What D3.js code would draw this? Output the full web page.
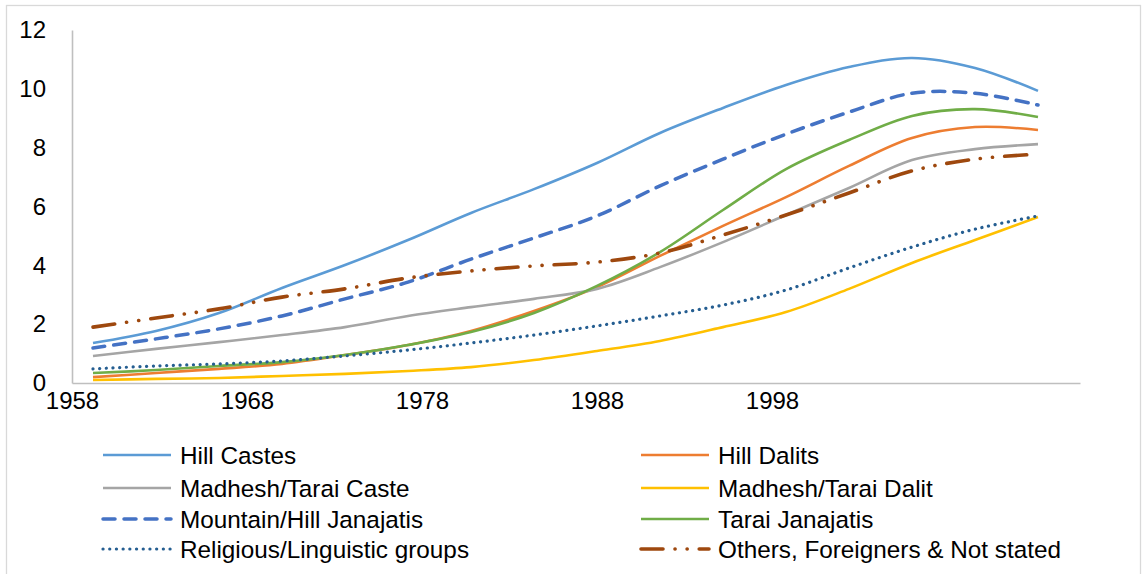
<!DOCTYPE html>
<html>
<head>
<meta charset="utf-8">
<script src="https://cdn.jsdelivr.net/npm/d3@7"></script>
<style>
  body { margin: 0; background: #fff; }
  svg text { font-family: "Liberation Sans", Arial, sans-serif; fill: #000; }
</style>
</head>
<body>
<div id="chart"></div>
<script>
// values
const years = [1959.2, 1962.8, 1966.4, 1970, 1973.6, 1977.2, 1980.8, 1984.4, 1988, 1991.6, 1995.2, 1998.8, 2002.4, 2006, 2009.6, 2013.2];

const hillCastes = [1.36, 1.77, 2.38, 3.23, 4.01, 4.86, 5.78, 6.59, 7.48, 8.5, 9.35, 10.13, 10.74, 11.05, 10.71, 9.93];
const hillDalits = [0.2, 0.34, 0.48, 0.65, 0.95, 1.29, 1.77, 2.45, 3.26, 4.32, 5.34, 6.32, 7.38, 8.33, 8.7, 8.6];
const madheshCaste = [0.92, 1.16, 1.39, 1.63, 1.9, 2.28, 2.58, 2.86, 3.2, 3.94, 4.79, 5.71, 6.63, 7.58, 7.95, 8.12];
const madheshDalit = [0.1, 0.14, 0.17, 0.24, 0.31, 0.41, 0.54, 0.78, 1.09, 1.43, 1.9, 2.41, 3.2, 4.08, 4.86, 5.64];
const mountainJanajatis = [1.19, 1.5, 1.84, 2.28, 2.86, 3.43, 4.21, 4.93, 5.68, 6.7, 7.61, 8.46, 9.21, 9.85, 9.85, 9.45];
const taraiJanajatis = [0.34, 0.44, 0.58, 0.71, 0.95, 1.29, 1.73, 2.38, 3.3, 4.45, 5.88, 7.27, 8.26, 9.08, 9.31, 9.04];
const religiousGroups = [0.48, 0.58, 0.65, 0.75, 0.92, 1.12, 1.36, 1.63, 1.94, 2.28, 2.65, 3.16, 3.91, 4.62, 5.23, 5.68];
const othersNotStated = [1.9, 2.21, 2.52, 2.92, 3.2, 3.57, 3.81, 3.98, 4.11, 4.42, 5.03, 5.71, 6.46, 7.21, 7.61, 7.78];

const xTicks = [1958, 1968, 1978, 1988, 1998];
const yTicks = [0, 2, 4, 6, 8, 10, 12];

// name, values, colour, width, dash
let seriesList = [
  ["Hill Castes", hillCastes, "#5B9BD5", 2.6, null],
  ["Hill Dalits", hillDalits, "#ED7D31", 2.6, null],
  ["Madhesh/Tarai Caste", madheshCaste, "#A5A5A5", 2.6, null],
  ["Madhesh/Tarai Dalit", madheshDalit, "#FFC000", 2.6, null],
  ["Mountain/Hill Janajatis", mountainJanajatis, "#4472C4", 3.5, "12,9"],
  ["Tarai Janajatis", taraiJanajatis, "#70AD47", 2.6, null],
  ["Religious/Linguistic groups", religiousGroups, "#255E91", 3.2, "0.1,6.6"],
  ["Others, Foreigners & Not stated", othersNotStated, "#9E480E", 3.6, "22,12,0.1,12,0.1,12"],
];

const width = 1142;
const height = 574;

let svg = d3
  .select("#chart")
  .append("svg")
  .attr("width", width)
  .attr("height", height);

// chart border
svg
  .append("rect")
  .attr("x", 6.5)
  .attr("y", 5.5)
  .attr("width", 1134)
  .attr("height", 580)
  .attr("fill", "none")
  .attr("stroke", "#D9D9D9")
  .attr("stroke-width", 1.3);

let x = d3.scaleLinear().domain([1958, 2015.6]).range([72, 1080]);
let y = d3.scaleLinear().domain([0, 12]).range([383, 30]);

const xAxis = svg.append("g").attr("transform", "translate(0,383)");
xAxis
  .call(d3.axisBottom(x).tickValues(xTicks).tickFormat(d3.format("d")).tickSize(0).tickPadding(9))
  .call((g) => {
    g.select(".domain").attr("stroke", "#BFBFBF").attr("stroke-width", 1.6);
  });
xAxis.selectAll("text").style("font-size", "24px").attr("font-family", null);

const yAxis = svg.append("g").attr("transform", "translate(72,0)");
yAxis
  .call(d3.axisLeft(y).tickValues(yTicks).tickSize(0).tickPadding(26))
  .call((g) => {
    g.select(".domain").attr("stroke", "#BFBFBF").attr("stroke-width", 1.6);
  });
yAxis.selectAll("text").style("font-size", "24px").attr("font-family", null);

let line = d3
  .line()
  .x((d) => x(d[0]))
  .y((d) => y(d[1]))
  .curve(d3.curveCatmullRom.alpha(0.5));

seriesList.forEach((s) => {
  let pts = years.map((yr, i) => [yr, s[1][i]]);
  svg
    .append("path")
    .attr("d", line(pts))
    .attr("fill", "none")
    .attr("stroke", s[2])
    .attr("stroke-width", s[3])
    .attr("stroke-dasharray", s[4])
    .attr("stroke-linecap", s[4] ? "round" : "butt")
    .attr("stroke-linejoin", "round");
});

// legend, two columns
const legendRows = [455, 488, 519, 549];
const legendCols = [103, 641];

let legend = svg
  .selectAll(".legendItem")
  .data(seriesList)
  .enter()
  .append("g")
  .attr("class", "legendItem")
  .attr("transform", (d, i) => `translate(${legendCols[i % 2]}, ${legendRows[Math.floor(i / 2)]})`);

legend
  .append("line")
  .attr("x1", 0)
  .attr("x2", 68)
  .attr("stroke", (d) => d[2])
  .attr("stroke-width", (d) => d[3])
  .attr("stroke-dasharray", (d) => d[4])
  .attr("stroke-linecap", (d) => (d[4] ? "round" : "butt"));

legend
  .append("text")
  .attr("x", 77)
  .attr("dy", "0.35em")
  .style("font-size", "24.3px")
  .text((d) => d[0]);
</script>
</body>
</html>
